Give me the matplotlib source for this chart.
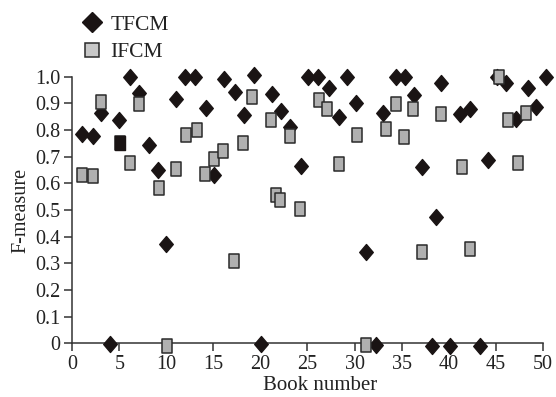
import matplotlib
matplotlib.use("Agg")
import matplotlib.pyplot as plt
from matplotlib.path import Path
from matplotlib.lines import Line2D

plt.rcParams['font.family'] = ['Liberation Serif', 'DejaVu Serif']

# TFCM (diamonds)
tfcm_x = [1.0, 2.16, 3.1, 4.0, 5.0, 6.13, 7.09, 8.2, 9.08, 10.0,
          11.0, 12.0, 13.0, 14.24, 15.1, 16.14, 17.3, 18.27, 19.36, 20.1,
          21.2, 22.17, 23.16, 24.33, 25.04, 26.17, 27.34, 28.37, 29.22, 30.21,
          31.22, 32.3, 33.02, 34.44, 35.4, 36.28, 37.2, 38.23, 38.66, 39.19,
          40.18, 41.17, 42.31, 43.3, 44.15, 45.15, 46.14, 47.2, 48.45, 49.33, 50.4]
tfcm_y = [0.786, 0.778, 0.865, -0.004, 0.837, 0.998, 0.94, 0.742, 0.65, 0.374,
          0.915, 0.998, 0.998, 0.883, 0.633, 0.991, 0.943, 0.857, 1.007, -0.004,
          0.934, 0.87, 0.813, 0.666, 0.998, 0.998, 0.956, 0.85, 0.998, 0.90,
          0.344, -0.005, 0.863, 0.998, 0.998, 0.933, 0.66, -0.01, 0.475, 0.978,
          -0.01, 0.859, 0.879, -0.01, 0.688, 1.0, 0.975, 0.842, 0.959, 0.888, 0.998]

# IFCM (squares)
ifcm_x = [1.0, 2.23, 3.0, 5.04, 6.13, 7.13, 9.18, 10.1, 11.06, 12.1,
          13.3, 14.1, 15.07, 16.07, 17.17, 18.19, 19.08, 21.14, 21.64, 22.13,
          23.13, 24.19, 26.24, 27.06, 28.3, 30.25, 31.2, 33.37, 34.4, 35.29,
          36.17, 37.2, 39.15, 41.42, 42.27, 45.4, 46.32, 47.34, 48.26]
ifcm_y = [0.63, 0.627, 0.904, 0.751, 0.676, 0.898, 0.581, -0.012, 0.652, 0.78,
          0.80, 0.636, 0.693, 0.72, 0.308, 0.753, 0.925, 0.836, 0.555, 0.539,
          0.777, 0.505, 0.913, 0.879, 0.671, 0.781, -0.005, 0.803, 0.899, 0.773,
          0.877, 0.342, 0.860, 0.66, 0.354, 1.0, 0.839, 0.675, 0.864]
ifcm_dark_index = 3  # the square at book 5 is rendered solid black

series_labels = ['TFCM', 'IFCM']
x_ticks = [0, 5, 10, 15, 20, 25, 30, 35, 40, 45, 50]
y_ticks = [0, 0.1, 0.2, 0.3, 0.4, 0.5, 0.6, 0.7, 0.8, 0.9, 1.0]
y_ticklabels = ['0', '0.1', '0.2', '0.3', '0.4', '0.5', '0.6', '0.7', '0.8', '0.9', '1.0']

diamond = Path([(0, 1), (0.85, 0), (0, -1), (-0.85, 0), (0, 1)],
               [Path.MOVETO, Path.LINETO, Path.LINETO, Path.LINETO, Path.CLOSEPOLY])
rect = Path([(-0.35, -0.5), (0.35, -0.5), (0.35, 0.5), (-0.35, 0.5), (-0.35, -0.5)],
            [Path.MOVETO, Path.LINETO, Path.LINETO, Path.LINETO, Path.CLOSEPOLY])

fig = plt.figure(figsize=(5.56, 3.97), dpi=100)
ax = fig.add_axes([0.130, 0.1353, 0.846, 0.6715])

ax.plot(tfcm_x, tfcm_y, linestyle='none', marker=diamond, markersize=11.5,
        markerfacecolor='#1a1414', markeredgecolor='#1a1414', clip_on=False, zorder=3)
ax.plot(ifcm_x, ifcm_y, linestyle='none', marker=rect, markersize=9.8,
        markerfacecolor='#b0b0b0', markeredgecolor='#2a2a2a', markeredgewidth=1.1,
        clip_on=False, zorder=4)
ax.plot([ifcm_x[ifcm_dark_index]], [ifcm_y[ifcm_dark_index]], linestyle='none',
        marker=rect, markersize=9.8, markerfacecolor='#1a1414',
        markeredgecolor='#1a1414', clip_on=False, zorder=5)

ax.set_xlim(0, 50)
ax.set_ylim(0, 1.0)
ax.set_xticks(x_ticks)
ax.set_yticks(y_ticks)
ax.set_yticklabels(y_ticklabels)
ax.spines['top'].set_visible(False)
ax.spines['right'].set_visible(False)
for s in ['left', 'bottom']:
    ax.spines[s].set_color('#333333')
    ax.spines[s].set_linewidth(1.1)
ax.tick_params(axis='both', direction='out', length=6, width=1.1, color='#333333',
               labelsize=14.5, labelcolor='#222222', pad=2.5)

ax.set_xlabel('Book number', fontsize=15, color='#222222')
ax.xaxis.set_label_coords(0.527, -0.122)
ax.set_ylabel('F-measure', fontsize=14.5, color='#222222')
ax.yaxis.set_label_coords(-0.09, 0.5)

handles = [
    Line2D([], [], linestyle='none', marker='D', markersize=10,
           markerfacecolor='#1a1414', markeredgecolor='#1a1414'),
    Line2D([], [], linestyle='none', marker='s', markersize=10.5,
           markerfacecolor='#c8c8c8', markeredgecolor='#2a2a2a', markeredgewidth=1.1),
]
fig.legend(handles, series_labels, loc='upper left',
           bbox_to_anchor=(81.3 / 556, 1 - 14.5 / 397), frameon=False,
           fontsize=15.5, handlelength=1.0, handletextpad=0.35, labelspacing=0.35,
           borderpad=0, borderaxespad=0, labelcolor='#222222')

fig.savefig('out.png', dpi=100)
